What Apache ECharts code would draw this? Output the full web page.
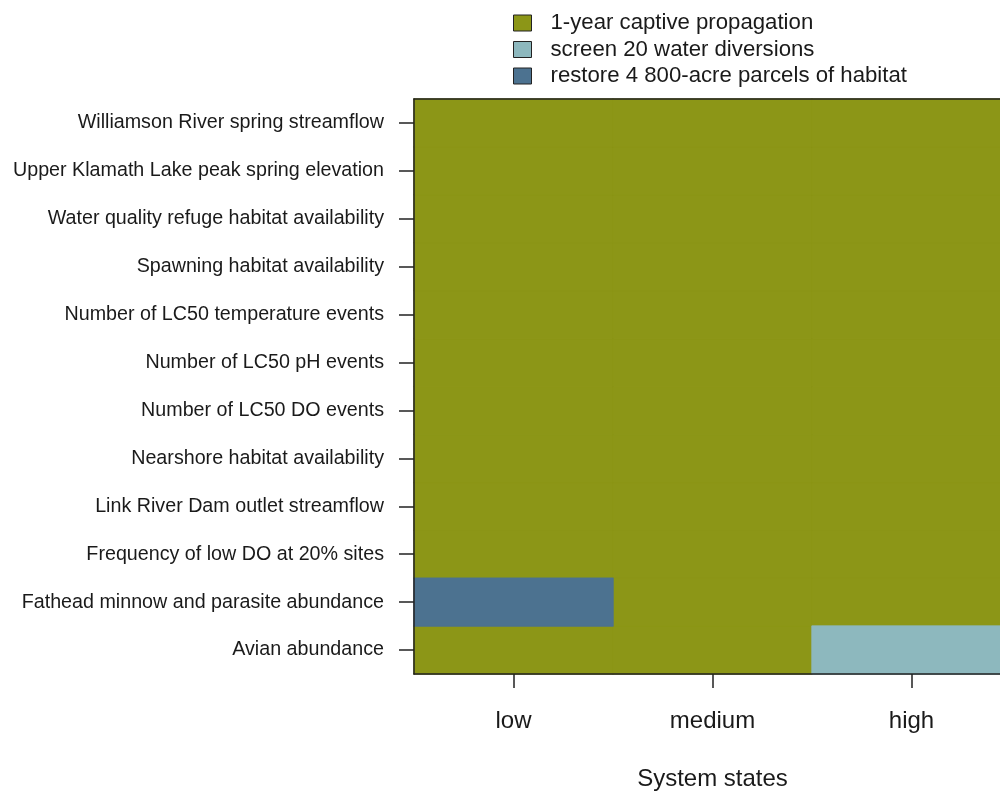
<!DOCTYPE html>
<html>
<head>
<meta charset="utf-8">
<script src="https://cdn.jsdelivr.net/npm/echarts@6/dist/echarts.min.js"></script>
<style>
  html, body { margin: 0; padding: 0; background: #fff; overflow: hidden; }
  /* canvas is a little wider than the window so the plot box runs past the right edge */
  #chart { width: 1030px; height: 791px; }
</style>
</head>
<body>
<div id="chart"></div>
<script>
// System states along the x axis
const states = ['low', 'medium', 'high'];

// Indicators, listed bottom to top
const indicators = [
  'Avian abundance',
  'Fathead minnow and parasite abundance',
  'Frequency of low DO at 20% sites',
  'Link River Dam outlet streamflow',
  'Nearshore habitat availability',
  'Number of LC50 DO events',
  'Number of LC50 pH events',
  'Number of LC50 temperature events',
  'Spawning habitat availability',
  'Water quality refuge habitat availability',
  'Upper Klamath Lake peak spring elevation',
  'Williamson River spring streamflow'
];

// Management actions (legend entries)
const actions = [
  '1-year captive propagation',
  'screen 20 water diversions',
  'restore 4 800-acre parcels of habitat'
];
const actionColors = ['#8C9617', '#8DB8BE', '#4C7290'];

// Best action index for each indicator (same order as indicators), per state
const lowState    = [0, 2, 0, 0, 0, 0, 0, 0, 0, 0, 0, 0];
const mediumState = [0, 0, 0, 0, 0, 0, 0, 0, 0, 0, 0, 0];
const highState   = [1, 0, 0, 0, 0, 0, 0, 0, 0, 0, 0, 0];

const byState = [lowState, mediumState, highState];

// One heatmap series per action so each gets its own legend entry
const series = actions.map((name, a) => {
  const data = [];
  byState.forEach((col, x) => {
    col.forEach((v, y) => { if (v === a) data.push([x, y, v]); });
  });
  return {
    name: name,
    type: 'heatmap',
    data: data,
    // a hairline border in the fill colour hides seams between cells
    itemStyle: { color: actionColors[a], borderColor: actionColors[a], borderWidth: 0.8 },
    emphasis: { disabled: true },
    z: 2
  };
});

const font = 'Liberation Sans, Arial, Helvetica, sans-serif';
const ink = '#1a1a1a';

const chart = echarts.init(document.getElementById('chart'), null, { renderer: 'canvas' });
chart.setOption({
  animation: false,
  backgroundColor: '#ffffff',
  textStyle: { fontFamily: font, color: ink },
  legend: {
    orient: 'vertical',
    left: 508,
    top: 7,
    itemWidth: 18,
    itemHeight: 16,
    itemGap: 4.5,
    icon: 'rect',
    selectedMode: false,
    itemStyle: { borderColor: '#222', borderWidth: 1 },
    textStyle: { fontFamily: font, fontSize: 22.2, color: ink, padding: [0, 0, 0, 14] },
    data: actions
  },
  grid: { left: 414, top: 99, width: 597, height: 575, outerBoundsMode: 'none' },
  xAxis: [
    {
      type: 'category',
      data: states,
      position: 'bottom',
      z: 5,
      axisLine: { show: true, lineStyle: { color: '#222', width: 1.5 } },
      axisTick: { show: true, alignWithLabel: true, length: 14, lineStyle: { color: '#222', width: 1.5 } },
      axisLabel: { margin: 35, fontSize: 24, color: ink, fontFamily: font },
      splitLine: { show: false },
      name: 'System states',
      nameLocation: 'middle',
      nameGap: 93,
      nameTextStyle: { fontSize: 24, color: ink, fontFamily: font }
    },
    {
      type: 'category',
      data: states,
      position: 'top',
      z: 5,
      axisLine: { show: true, lineStyle: { color: '#222', width: 1.5 } },
      axisTick: { show: false },
      axisLabel: { show: false },
      splitLine: { show: false }
    }
  ],
  yAxis: {
    type: 'category',
    data: indicators,
    z: 5,
    axisLine: { show: true, lineStyle: { color: '#222', width: 1.5 } },
    axisTick: { show: true, alignWithLabel: true, length: 15, lineStyle: { color: '#222', width: 1.5 } },
    axisLabel: { margin: 30, fontSize: 19.7, color: ink, fontFamily: font, padding: [4, 0, 0, 0] },
    splitLine: { show: false }
  },
  series: series
});
</script>
</body>
</html>
